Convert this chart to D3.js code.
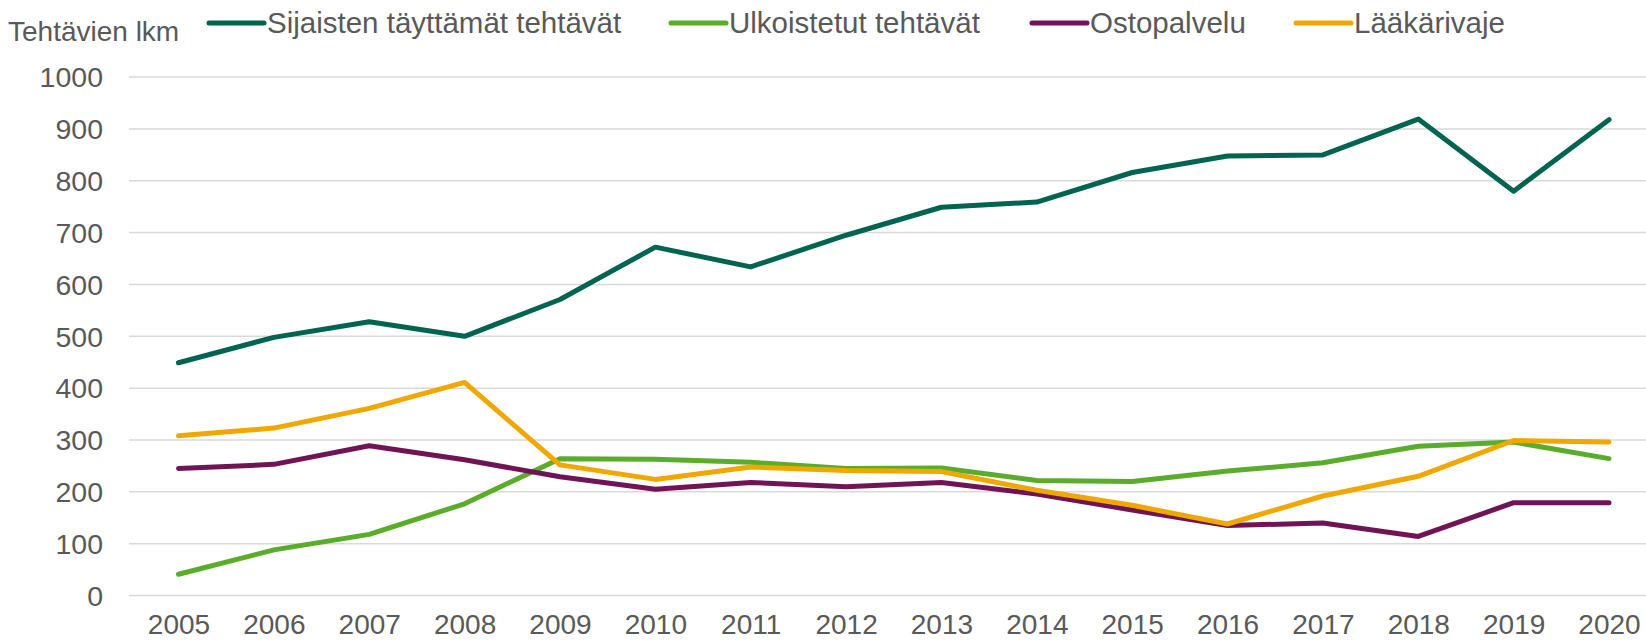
<!DOCTYPE html>
<meta charset="utf-8">

<head>
    <title>Tehtävien lkm</title>
    <script type="text/javascript" src="https://cdn.jsdelivr.net/npm/d3@7"></script>

    <style>
        body {
            margin: 0;
            background: #ffffff;
        }

        text {
            font-family: "Liberation Sans", Arial, sans-serif;
            fill: #595959;
        }

        .grid line {
            stroke: #d9d9d9;
            stroke-width: 1.5;
        }
    </style>
</head>

<body>
    <div id="chart"></div>

    <script>
        // data
        var years = ["2005", "2006", "2007", "2008", "2009", "2010", "2011", "2012",
            "2013", "2014", "2015", "2016", "2017", "2018", "2019", "2020"];

        var seriesNames = ["Sijaisten täyttämät tehtävät", "Ulkoistetut tehtävät", "Ostopalvelu", "Lääkärivaje"];

        var sijaiset = [448, 497, 527, 499, 570, 671, 633, 694, 748, 758, 815, 847, 849, 918, 779, 917];
        var ulkoistetut = [40, 87, 117, 176, 263, 262, 256, 244, 245, 221, 219, 239, 255, 287, 295, 263];
        var ostopalvelu = [244, 252, 288, 261, 228, 204, 217, 209, 217, 195, 164, 134, 139, 113, 178, 178];
        var laakarivaje = [307, 322, 360, 410, 251, 223, 247, 240, 238, 202, 173, 137, 191, 229, 298, 295];

        var yTicks = [0, 100, 200, 300, 400, 500, 600, 700, 800, 900, 1000];

        var colors = ["#006450", "#5aad2a", "#701456", "#f0a800"];

        // dimensions
        var width = 1646;
        var height = 642;
        var plotLeft = 129;

        var svg = d3.select("#chart")
            .append("svg")
            .attr("width", width)
            .attr("height", height);

        var x = d3.scalePoint()
            .domain(years)
            .range([178.5, 1609]);

        var y = d3.scaleLinear()
            .domain([0, 1000])
            .range([595, 76.6]);

        // y axis + gridlines
        var yAxis = svg.append("g")
            .attr("class", "grid")
            .attr("transform", "translate(" + plotLeft + ",0)")
            .call(d3.axisLeft(y)
                .tickValues(yTicks)
                .tickFormat(d3.format("d"))
                .tickSize(-(width - plotLeft))
                .tickPadding(26));

        yAxis.select(".domain").remove();
        yAxis.selectAll("text")
            .style("font-size", "28.5px")
            .attr("dy", "0.36em");

        // x axis
        var xAxis = svg.append("g")
            .attr("transform", "translate(0," + y(0) + ")")
            .call(d3.axisBottom(x).tickSize(0));

        xAxis.select(".domain").remove();
        xAxis.selectAll("text")
            .style("font-size", "28px")
            .attr("y", 39)
            .attr("dy", 0);

        // lines
        var allSeries = [sijaiset, ulkoistetut, ostopalvelu, laakarivaje];

        var line = d3.line()
            .x(function (d, i) { return x(years[i]); })
            .y(function (d) { return y(d); });

        svg.selectAll(".series")
            .data(allSeries)
            .enter()
            .append("path")
            .attr("class", "series")
            .attr("d", line)
            .attr("fill", "none")
            .attr("stroke", function (d, i) { return colors[i]; })
            .attr("stroke-width", 5)
            .attr("stroke-linejoin", "round")
            .attr("stroke-linecap", "round");

        // axis title
        svg.append("text")
            .attr("x", 8)
            .attr("y", 41)
            .style("font-size", "28px")
            .text("Tehtävien lkm");

        // legend
        var legendX = [209, 671, 1032, 1296];

        var legend = svg.selectAll(".legend")
            .data(seriesNames)
            .enter()
            .append("g")
            .attr("class", "legend")
            .attr("transform", function (d, i) { return "translate(" + legendX[i] + ",23)"; });

        legend.append("line")
            .attr("x1", 0)
            .attr("x2", 55)
            .attr("stroke", function (d, i) { return colors[i]; })
            .attr("stroke-width", 5)
            .attr("stroke-linecap", "round");

        legend.append("text")
            .attr("x", 58)
            .attr("y", 10)
            .style("font-size", "29.5px")
            .text(function (d) { return d; });

    </script>

</body>

</html>
